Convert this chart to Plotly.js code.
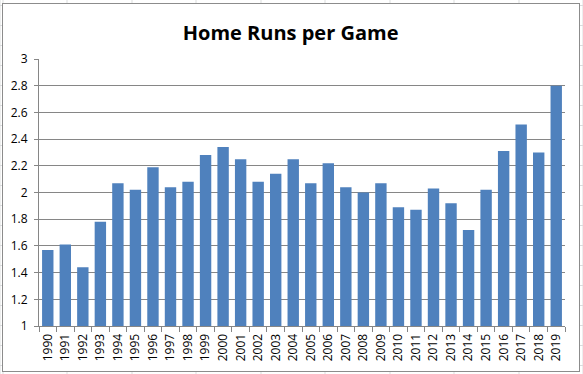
<!DOCTYPE html>
<html>
<head>
<meta charset="utf-8">
<script src="https://cdn.plot.ly/plotly-3.0.1.min.js"></script>
<style>
  html, body { margin: 0; padding: 0; }
  body {
    width: 583px; height: 374px; position: relative; overflow: hidden;
    background-color: #ffffff;
    background-image:
      repeating-linear-gradient(to right, #dadcdd 0px, #dadcdd 1px, transparent 1px, transparent 64.5px),
      repeating-linear-gradient(to bottom, #dadcdd 0px, #dadcdd 1px, transparent 1px, transparent 20px);
    background-position: 2.5px 0px, 0px 5px;
  }
  #frame {
    position: absolute; left: 2px; top: 3px; width: 576px; height: 367px;
    background: #ffffff; border: 1px solid #8c8c8c;
  }
  #chart { position: absolute; left: 0; top: 0; width: 583px; height: 374px; }
</style>
</head>
<body>
<div id="frame"></div>
<div id="chart"></div>
<script>
const years = ["1990","1991","1992","1993","1994","1995","1996","1997","1998","1999",
               "2000","2001","2002","2003","2004","2005","2006","2007","2008","2009",
               "2010","2011","2012","2013","2014","2015","2016","2017","2018","2019"];
const homeRunsPerGame = [1.57, 1.61, 1.44, 1.78, 2.07, 2.02, 2.19, 2.04, 2.08, 2.28,
                         2.34, 2.25, 2.08, 2.14, 2.25, 2.07, 2.22, 2.04, 2.00, 2.07,
                         1.89, 1.87, 2.03, 1.92, 1.72, 2.02, 2.31, 2.51, 2.30, 2.80];
const yTickVals = [1, 1.2, 1.4, 1.6, 1.8, 2, 2.2, 2.4, 2.6, 2.8, 3];
const yTickText = ["1", "1.2", "1.4", "1.6", "1.8", "2", "2.2", "2.4", "2.6", "2.8", "3"];
const chartTitle = "Home Runs per Game";

const trace = {
  type: "bar",
  x: years,
  y: homeRunsPerGame,
  base: 0,
  marker: { color: "#4f81bd", line: { width: 0 } },
  hoverinfo: "x+y"
};

const layout = {
  width: 583, height: 374,
  margin: { l: 39, r: 18, t: 59, b: 48, pad: 0 },
  paper_bgcolor: "rgba(0,0,0,0)",
  plot_bgcolor: "rgba(0,0,0,0)",
  bargap: 0.35,
  showlegend: false,
  title: {
    text: "<b>" + chartTitle + "</b>",
    font: { family: "Open Sans, sans-serif", size: 20, color: "#000000" },
    x: 0.4985, xanchor: "center", xref: "container",
    y: 0.913, yanchor: "middle", yref: "container"
  },
  xaxis: {
    type: "category",
    tickangle: -90,
    ticks: "outside", ticklen: 5, tickcolor: "#868686", tickwidth: 1,
    tickson: "boundaries",
    showline: true, linecolor: "#868686", linewidth: 1,
    showgrid: false,
    tickfont: { family: "Open Sans, sans-serif", size: 12, color: "#000000" },
    ticklabelstandoff: 2,
    fixedrange: true
  },
  yaxis: {
    range: [1, 3],
    tickvals: yTickVals, ticktext: yTickText,
    ticks: "outside", ticklen: 4, tickcolor: "#868686", tickwidth: 1,
    showline: true, linecolor: "#868686", linewidth: 1,
    showgrid: true, gridcolor: "#868686", gridwidth: 1,
    zeroline: false,
    tickfont: { family: "Open Sans, sans-serif", size: 12, color: "#000000" },
    ticklabelstandoff: 4,
    fixedrange: true
  }
};

Plotly.newPlot("chart", [trace], layout, { staticPlot: true, displayModeBar: false });
</script>
</body>
</html>
